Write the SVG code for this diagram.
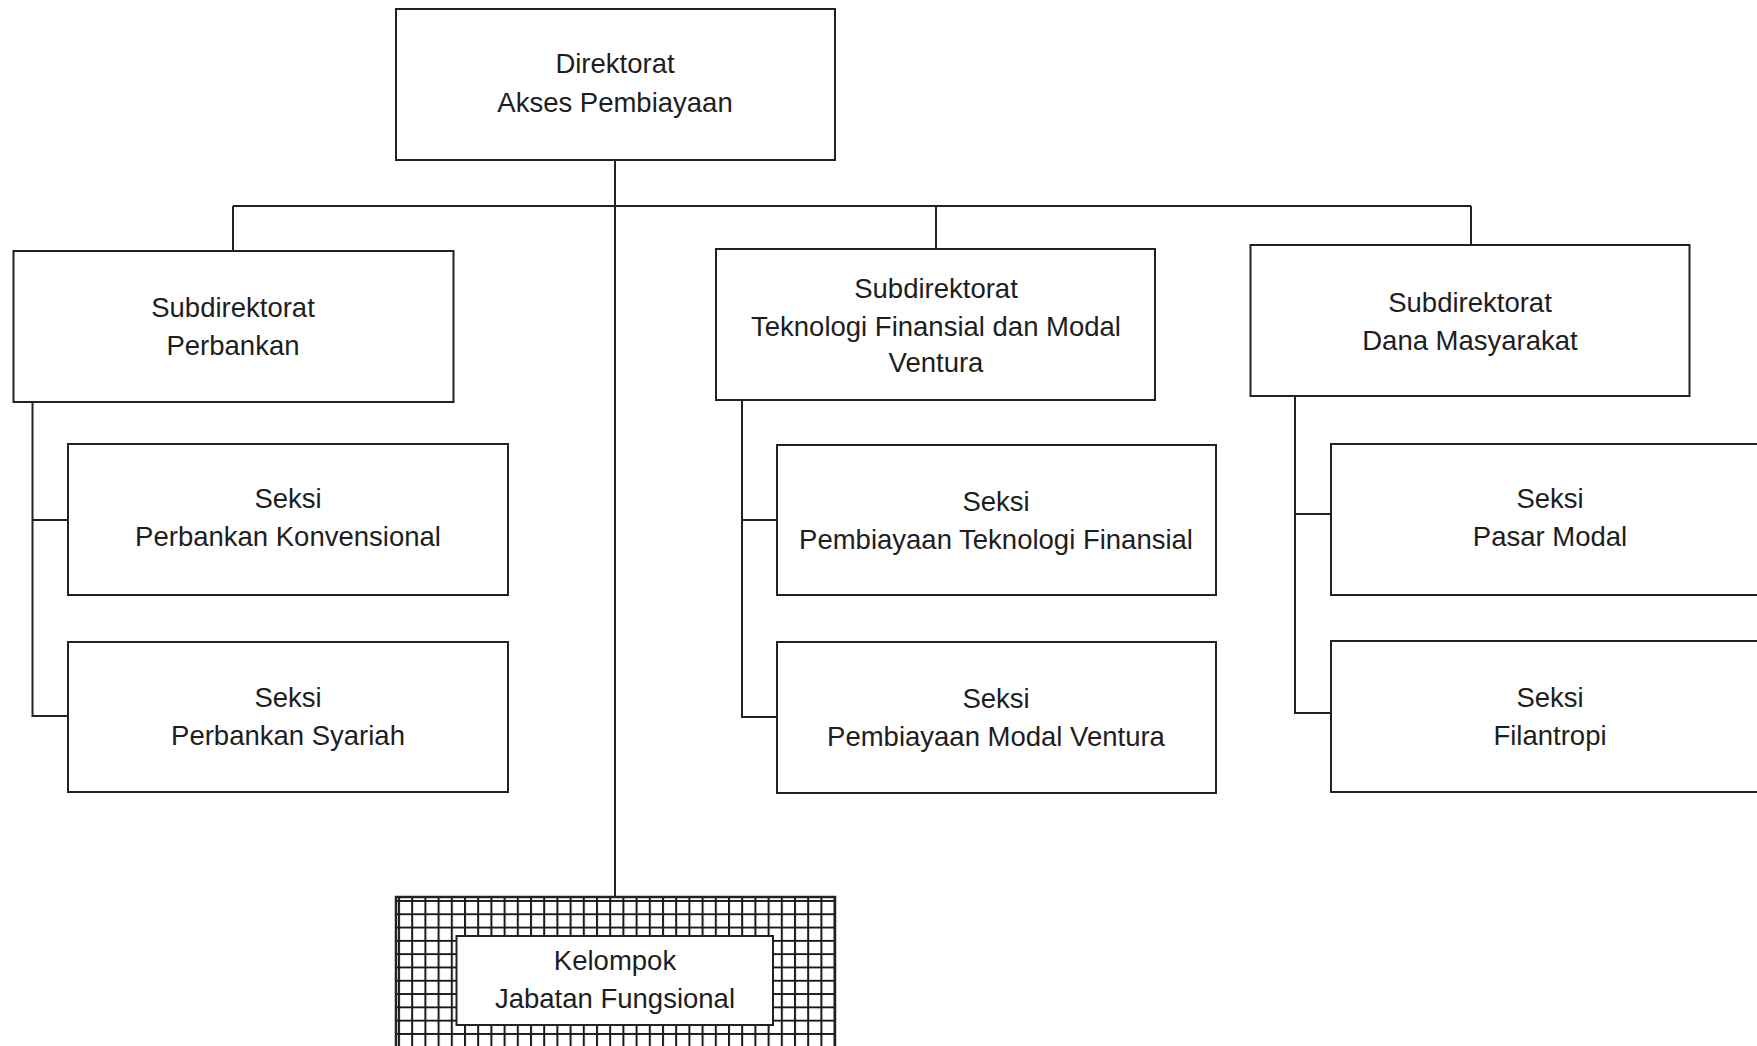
<svg xmlns="http://www.w3.org/2000/svg" width="1757" height="1046" viewBox="0 0 1757 1046">
<style>
.box{fill:#fff;stroke:#222;stroke-width:2}
.ln{stroke:#222;stroke-width:2;fill:none}
text{font-family:"Liberation Sans",Arial,sans-serif;font-size:27.5px;fill:#1e1e1e;text-anchor:middle}
</style>
<defs>
<pattern id="grid" patternUnits="userSpaceOnUse" x="398" y="900" width="13.2" height="13.3">
<rect width="13.2" height="13.3" fill="#fff"/>
<path d="M1 0V13.3M0 1H13.2" stroke="#1a1a1a" stroke-width="2"/>
</pattern>
</defs>
<rect width="1757" height="1046" fill="#fff"/>
<g id="connectors">
<path class="ln" d="M615 160V896"/>
<path class="ln" d="M233 206H1471"/>
<path class="ln" d="M233 206V251M936 206V249M1471 206V245"/>
<path class="ln" d="M32.5 402V716H68M32.5 520H68"/>
<path class="ln" d="M742 400V717H777M742 520H777"/>
<path class="ln" d="M1295 397V713H1331M1295 514H1331"/>
</g>
<g id="direktorat">
<rect class="box" x="396" y="9" width="439" height="151"/>
<text x="615" y="73">Direktorat</text>
<text x="615" y="111.5">Akses Pembiayaan</text>
</g>
<g id="sub-perbankan">
<rect class="box" x="13.5" y="251" width="440" height="151"/>
<text x="233" y="316.5">Subdirektorat</text>
<text x="233" y="354.5">Perbankan</text>
</g>
<g id="seksi-konvensional">
<rect class="box" x="68" y="444" width="440" height="151"/>
<text x="288" y="508">Seksi</text>
<text x="288" y="546">Perbankan Konvensional</text>
</g>
<g id="seksi-syariah">
<rect class="box" x="68" y="642" width="440" height="150"/>
<text x="288" y="706.5">Seksi</text>
<text x="288" y="744.5">Perbankan Syariah</text>
</g>
<g id="sub-teknologi">
<rect class="box" x="716" y="249" width="439" height="151"/>
<text x="936" y="297.5">Subdirektorat</text>
<text x="936" y="335.5">Teknologi Finansial dan Modal</text>
<text x="936" y="371.5">Ventura</text>
</g>
<g id="seksi-tekfin">
<rect class="box" x="777" y="445" width="439" height="150"/>
<text x="996" y="510.5">Seksi</text>
<text x="996" y="548.5">Pembiayaan Teknologi Finansial</text>
</g>
<g id="seksi-ventura">
<rect class="box" x="777" y="642" width="439" height="151"/>
<text x="996" y="707.5">Seksi</text>
<text x="996" y="745.5">Pembiayaan Modal Ventura</text>
</g>
<g id="sub-dana">
<rect class="box" x="1250.5" y="245" width="439" height="151"/>
<text x="1470" y="312">Subdirektorat</text>
<text x="1470" y="350">Dana Masyarakat</text>
</g>
<g id="seksi-pasar-modal">
<rect class="box" x="1331" y="444" width="440" height="151"/>
<text x="1550" y="508">Seksi</text>
<text x="1550" y="546">Pasar Modal</text>
</g>
<g id="seksi-filantropi">
<rect class="box" x="1331" y="641" width="440" height="151"/>
<text x="1550" y="706.5">Seksi</text>
<text x="1550" y="744.5">Filantropi</text>
</g>
<g id="kelompok">
<rect x="396" y="897" width="439" height="160" fill="url(#grid)" stroke="#222" stroke-width="2.5"/>
<rect class="box" x="456.5" y="936" width="316.5" height="89"/>
<text x="615" y="970">Kelompok</text>
<text x="615" y="1008">Jabatan Fungsional</text>
</g>
</svg>
